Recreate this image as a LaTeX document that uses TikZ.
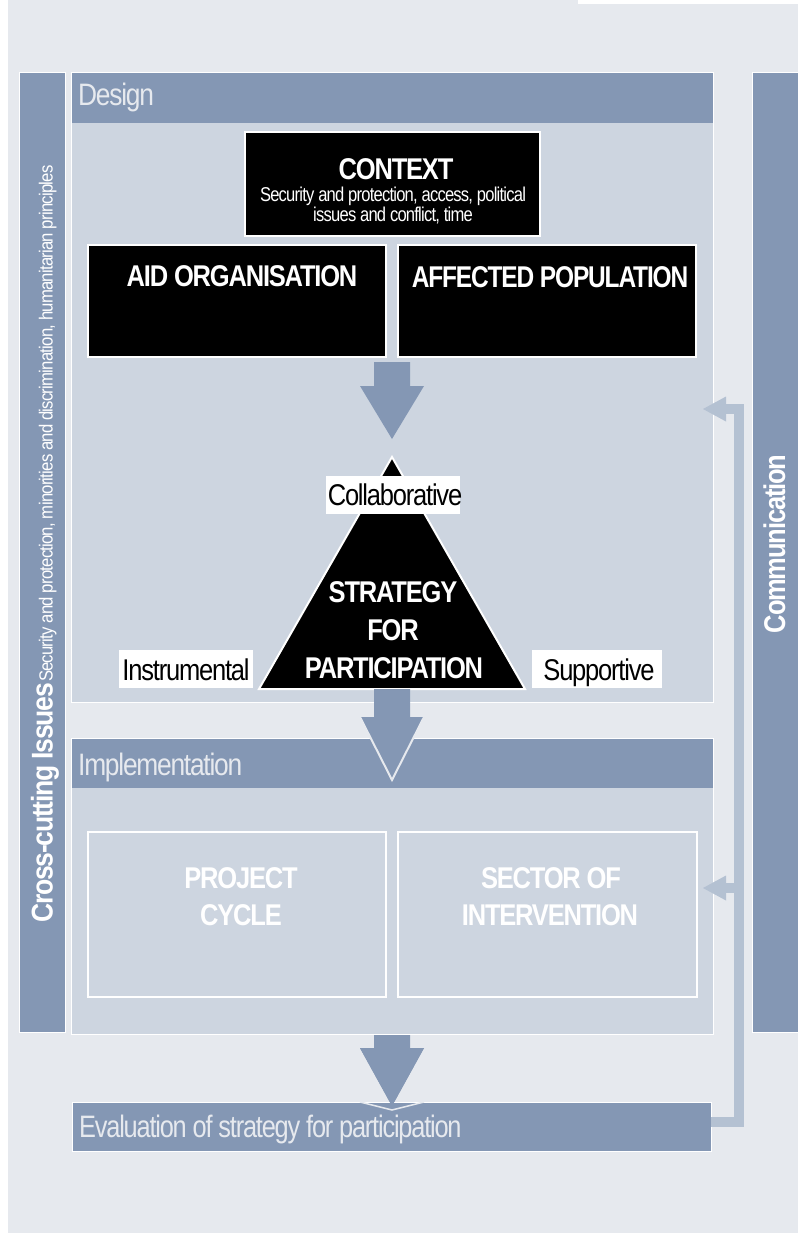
\documentclass[tikz,border=0pt]{standalone}
\usepackage{fontspec}
\setmainfont{Liberation Sans}[FakeStretch=0.85,LetterSpace=-4]
\usetikzlibrary{calc}
\definecolor{bgc}{HTML}{E6E9EE}
\definecolor{colc}{HTML}{8497B4}
\definecolor{panelc}{HTML}{CDD5E0}
\definecolor{fbc}{HTML}{B4C1D2}
\newcommand{\fsz}[1]{\fontsize{#1}{#1}\selectfont}
\newcommand{\fatarrow}[4]{%
  \fill[colc] (#1-18,#2) -- (#1+18,#2) -- (#1+18,#3) -- (#1+32,#3) -- (#1,#4) -- (#1-32,#3) -- (#1-18,#3) -- cycle;}
\begin{document}
\begin{tikzpicture}[x=1pt,y=-1pt,
  box/.style={rectangle,inner sep=0pt,outer sep=0pt},
  colbar/.style={box,fill=colc,draw=white,line width=1pt},
  panelbody/.style={box,fill=panelc,draw=white,line width=1pt},
  headbar/.style={box,fill=colc},
  blackbox/.style={box,fill=black,draw=white,line width=1.5pt},
  openbox/.style={box,draw=white,line width=1.5pt},
  labelbox/.style={box,fill=white},
  htext/.style={inner sep=0pt,anchor=base west,text=bgc,font=\fsz{31}},
  btext/.style={inner sep=0pt,anchor=base,text=white,font=\fsz{30}\bfseries},
  ltext/.style={inner sep=0pt,text=black,font=\fsz{30}},
  fbline/.style={fbc,line width=10pt}]
\useasboundingbox (0,0) rectangle (798,1235);
\fill[white] (0,0) rectangle (798,1235);
\fill[bgc] (8,0) rectangle (578,1233);
\fill[bgc] (578,4) rectangle (798,1233);

% side columns
\node[colbar,minimum width=46pt,minimum height=960pt] (cross) at (42,552) {};
\node[colbar,minimum width=46pt,minimum height=960pt] (comm) at (775,552) {};
\node[rotate=90,anchor=base west,inner sep=0pt,text=white] (crosst) at (52.5,923)
  {\scalebox{1.04}[1]{\fsz{30}\bfseries Cross-cutting Issues}\hspace{1pt}\scalebox{1.035}[1]{\fsz{19}Security and protection, minorities and discrimination, humanitarian principles}};
\node[rotate=90,anchor=base,inner sep=0pt,text=white,font=\fsz{30}\bfseries] (commt) at (785,544) {Communication};

% design panel
\node[panelbody,minimum width=642pt,minimum height=630pt] (design) at (392,387) {};
\node[headbar,minimum width=641pt,minimum height=50.5pt] (designh) at (392,97.75) {};
\node[htext] (designt) at (78,105) {Design};

% implementation panel
\node[panelbody,minimum width=642pt,minimum height=296pt] (impl) at (392,886) {};
\node[headbar,minimum width=641pt,minimum height=49.5pt] (implh) at (392,763.25) {};
\node[htext] (implt) at (78,775) {Implementation};

% evaluation bar
\node[colbar,minimum width=639pt,minimum height=49pt] (eval) at (391.5,1126.5) {};
\node[htext] (evalt) at (79,1137) {\scalebox{0.962}[1]{Evaluation of strategy for participation}};

% context and actors
\node[blackbox,minimum width=295pt,minimum height=104pt] (ctx) at (392.5,184) {};
\node[btext] (ctxt) at (396,179) {CONTEXT};
\node[inner sep=0pt,anchor=base,text=white,font=\fsz{20}] (ctxs1) at (393,201) {\scalebox{0.975}[1]{Security and protection, access, political}};
\node[inner sep=0pt,anchor=base,text=white,font=\fsz{20}] (ctxs2) at (393,221) {\scalebox{0.975}[1]{issues and conflict, time}};

\node[blackbox,minimum width=298pt,minimum height=112pt] (aid) at (237,301) {};
\node[btext] (aidt) at (242,286) {AID ORGANISATION};
\node[blackbox,minimum width=298pt,minimum height=112pt] (aff) at (547,301) {};
\node[btext] (afft) at (550,287) {\scalebox{0.96}[1]{AFFECTED POPULATION}};

% arrow 1
\fatarrow{392}{362}{386}{439}

% triangle
\coordinate (tA) at (392,457);
\coordinate (tB) at (525,689);
\coordinate (tC) at (259,689);
\draw[fill=black,draw=white,line width=2pt,line join=miter] (tA) -- (tB) -- (tC) -- cycle;
\node[btext] (st1) at (393,602) {STRATEGY};
\node[btext] (st2) at (393,640) {FOR};
\node[btext] (st3) at (394,678) {PARTICIPATION};

\node[labelbox,minimum width=134pt,minimum height=38pt] (colb) at (393,495) {};
\node[ltext,anchor=base] (colt) at (395,505) {Collaborative};
\node[labelbox,minimum width=134pt,minimum height=38pt] (insb) at (186,669) {};
\node[ltext,anchor=base] (inst) at (186,680) {Instrumental};
\node[labelbox,minimum width=130pt,minimum height=38pt] (supb) at (597,669) {};
\node[ltext,anchor=base] (supt) at (599,680) {Supportive};

% arrow 2
\fatarrow{392}{689}{717}{780}
\draw[bgc,line width=2pt] (360,717) -- (392,780) -- (424,717);

% implementation boxes
\node[openbox,minimum width=298pt,minimum height=165pt] (proj) at (237,914.5) {};
\node[btext] (pr1) at (241,888) {PROJECT};
\node[btext] (pr2) at (241,925) {CYCLE};
\node[openbox,minimum width=299pt,minimum height=165pt] (sect) at (547.5,914.5) {};
\node[btext] (se1) at (551,888) {SECTOR OF};
\node[btext] (se2) at (550,925) {INTERVENTION};

% arrow 3
\fatarrow{392}{1035}{1048}{1106}
\draw[bgc,line width=1.5pt] (360,1102) -- (392,1110) -- (424,1102);
\fill[colc] (360,1048) -- (392,1106) -- (424,1048) -- cycle;

% feedback loop
\coordinate (fb0) at (711,1122);
\coordinate (fb1) at (738.5,1122);
\coordinate (fb2) at (738.5,409);
\coordinate (fb3) at (726,409);
\coordinate (fb4) at (738.5,888);
\coordinate (fb5) at (726,888);
\draw[fbline,line join=miter] (fb0) -- (fb1) -- (fb2) -- (fb3);
\draw[fbline] (fb4) -- (fb5);
\fill[fbc] (726,396.5) -- (703,409) -- (726,421.5) -- cycle;
\fill[fbc] (726,875.5) -- (703,888) -- (726,900.5) -- cycle;
\end{tikzpicture}
\end{document}
